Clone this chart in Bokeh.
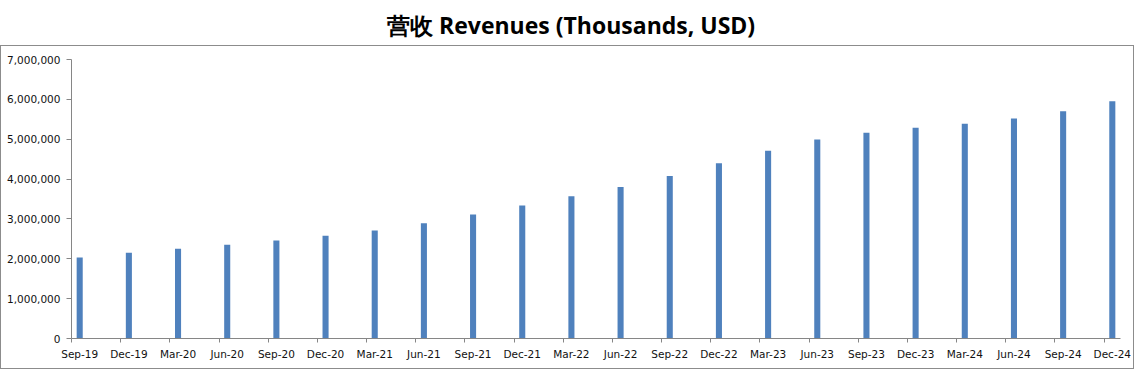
from bokeh.plotting import figure
from bokeh.models import FixedTicker, NumeralTickFormatter, Range1d
from bokeh.layouts import column
from bokeh.core.properties import value
from bokeh.embed import file_html
from bokeh.resources import INLINE

title_text = "营收 Revenues (Thousands, USD)"
quarters = ["Sep-19", "Dec-19", "Mar-20", "Jun-20", "Sep-20", "Dec-20", "Mar-21", "Jun-21",
            "Sep-21", "Dec-21", "Mar-22", "Jun-22", "Sep-22", "Dec-22", "Mar-23", "Jun-23",
            "Sep-23", "Dec-23", "Mar-24", "Jun-24", "Sep-24", "Dec-24"]
revenues = [2030000, 2150000, 2250000, 2350000, 2460000, 2580000, 2710000, 2890000,
            3110000, 3340000, 3570000, 3800000, 4080000, 4400000, 4710000, 4990000,
            5160000, 5290000, 5390000, 5520000, 5700000, 5950000]
y_ticks = [0, 1000000, 2000000, 3000000, 4000000, 5000000, 6000000, 7000000]

# month-based date axis (3 months per quarter), bars centred in their month slot
tick_pos = [3 * i for i in range(len(quarters))]
bar_pos = [t + 0.5 for t in tick_pos]

# ---- title strip (its frame is aligned with the chart frame by the column layout) ----
t = figure(width=1134, height=45, output_backend="svg", toolbar_location=None,
           x_range=Range1d(0, 1), y_range=Range1d(0, 1),
           x_axis_location=None, y_axis_location=None, min_border=0)
t.outline_line_color = None
t.xgrid.visible = False
t.ygrid.visible = False
t.text(x=[0.3018], y=[0.464], text=[title_text], text_align="left", text_baseline="middle",
       text_font=value("Open Sans"), text_font_style="bold", text_font_size="23px",
       text_color="#000000")

# ---- chart ----
p = figure(width=1134, height=324, output_backend="svg", toolbar_location=None,
           x_range=Range1d(0, 64), y_range=Range1d(0, 7000000),
           min_border_left=70, min_border_right=15, min_border_top=13, min_border_bottom=32)
p.styles = {"border": "1px solid #8c8c8c", "box-sizing": "border-box"}
p.outline_line_color = None
p.xgrid.visible = False
p.ygrid.visible = False
p.background_fill_color = "white"
p.border_fill_color = "white"

p.vbar(x=bar_pos, top=revenues, width=0.37, bottom=0, fill_color="#4F81BD", line_color=None)

axis_color = "#868686"
label_font = "DejaVu Sans"

yax = p.yaxis[0]
yax.ticker = FixedTicker(ticks=y_ticks)
yax.formatter = NumeralTickFormatter(format="0,0")
yax.axis_line_color = axis_color
yax.major_tick_line_color = axis_color
yax.major_tick_out = 5
yax.major_tick_in = 0
yax.minor_tick_line_color = None
yax.major_label_text_font = label_font
yax.major_label_text_font_size = "10.5px"
yax.major_label_text_color = "#111111"
yax.major_label_standoff = 6

xax = p.xaxis[0]
xax.ticker = FixedTicker(ticks=bar_pos, minor_ticks=tick_pos)
xax.major_label_overrides = {b: q for b, q in zip(bar_pos, quarters)}
xax.axis_line_color = axis_color
xax.major_tick_line_color = None
xax.major_tick_out = 0
xax.major_tick_in = 0
xax.minor_tick_line_color = axis_color
xax.minor_tick_out = 4
xax.minor_tick_in = 0
xax.major_label_standoff = 5
xax.major_label_text_font = label_font
xax.major_label_text_font_size = "10.5px"
xax.major_label_text_color = "#111111"

layout = column(t, p, spacing=0)
open("out.html", "w").write(file_html(layout, INLINE))
